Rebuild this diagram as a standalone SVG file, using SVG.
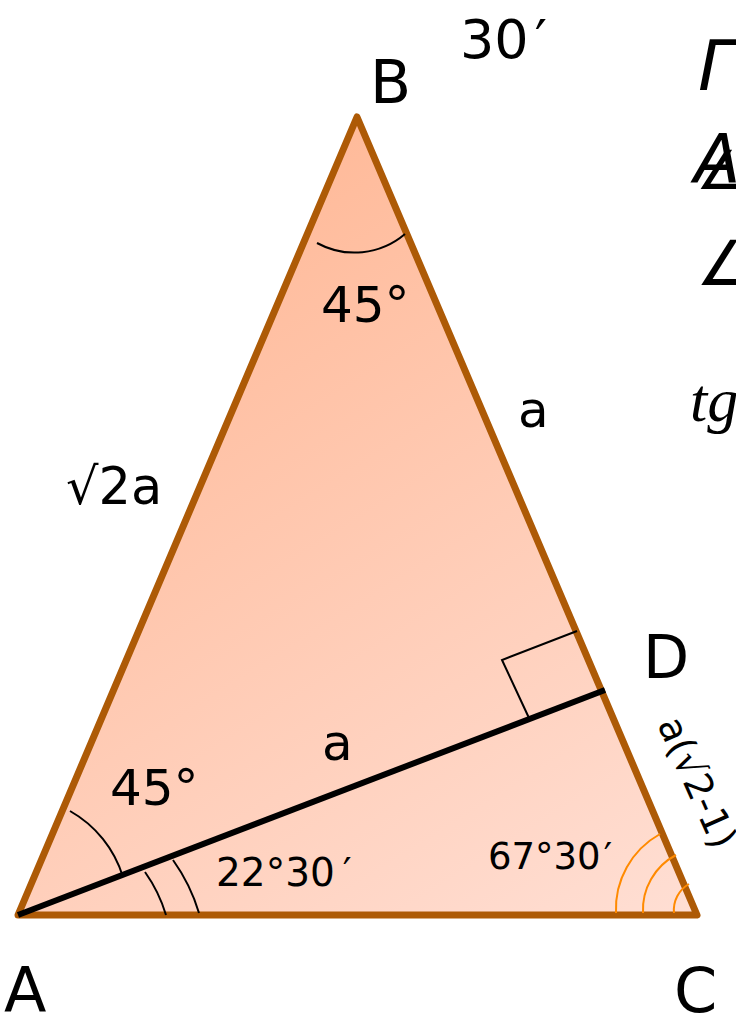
<svg xmlns="http://www.w3.org/2000/svg" width="736" height="1015" viewBox="0 0 736 1015">
<defs>
<linearGradient id="fillg" gradientUnits="userSpaceOnUse" x1="200" y1="150" x2="700" y2="950">
<stop offset="0" stop-color="#FFB896"/>
<stop offset="1" stop-color="#FFE0D6"/>
</linearGradient>
<style>
.lbl{font-family:"DejaVu Sans",sans-serif;fill:#000}
.arc{fill:none;stroke:#000;stroke-width:2}
.oarc{fill:none;stroke:#FF8A00;stroke-width:2}
</style>
</defs>
<g id="triangle">
<polygon points="18,915 357,117 697,915" fill="url(#fillg)" stroke="#AD5A06" stroke-width="7" stroke-linejoin="round"/>
</g>
<g id="connectors">
<line x1="18" y1="915" x2="605" y2="690" stroke="#000" stroke-width="6"/>
<polyline points="577,631 502,660 529,718" fill="none" stroke="#000" stroke-width="2"/>
</g>
<g id="arcs">
<path class="arc" d="M317,243 A78,78 0 0 0 405,234"/>
<path class="arc" d="M70,811 A114,114 0 0 1 123,877"/>
<path class="arc" d="M145,872 A148,148 0 0 1 166,915"/>
<path class="arc" d="M173,860 A180,180 0 0 1 199,913"/>
<path class="oarc" d="M660,834 A86,86 0 0 0 616,913"/>
<path class="oarc" d="M676,855 A62,62 0 0 0 643,913"/>
<path class="oarc" d="M689,884 A30,30 0 0 0 674,913"/>
</g>
<g id="labels">
<text class="lbl" x="370" y="103" font-size="60">B</text>
<text class="lbl" x="4" y="1012" font-size="62">A</text>
<text class="lbl" x="674" y="1012" font-size="62">C</text>
<text class="lbl" x="643" y="678" font-size="60">D</text>
<text class="lbl" x="460" y="58" font-size="54">30<tspan dx="6">′</tspan></text>
<text class="lbl" x="321" y="322" font-size="50">45°</text>
<text class="lbl" x="518" y="427" font-size="50">a</text>
<text class="lbl" x="66" y="504" font-size="51">√2a</text>
<text class="lbl" x="110" y="805" font-size="50">45°</text>
<text class="lbl" x="322" y="760" font-size="50">a</text>
<text class="lbl" x="216" y="886" font-size="39">22°30<tspan dx="8">′</tspan></text>
<text class="lbl" x="488" y="869" font-size="37">67°30<tspan dx="3">′</tspan></text>
<text class="lbl" font-size="38" transform="translate(657,724) rotate(66)">a(√2-1)</text>
<text x="698" y="90" font-size="70" font-style="italic" font-family="DejaVu Sans,sans-serif">Γ</text>
<text x="694" y="183" font-size="68" font-style="italic" font-family="DejaVu Sans,sans-serif">A</text>
<text x="696" y="189" font-size="54" font-family="Liberation Serif,serif">∠</text>
<text x="696" y="285" font-size="62" font-family="Liberation Serif,serif">∠</text>
<text x="690" y="421" font-size="62" font-style="italic" font-family="Liberation Serif,serif">tg</text>
</g>
</svg>
